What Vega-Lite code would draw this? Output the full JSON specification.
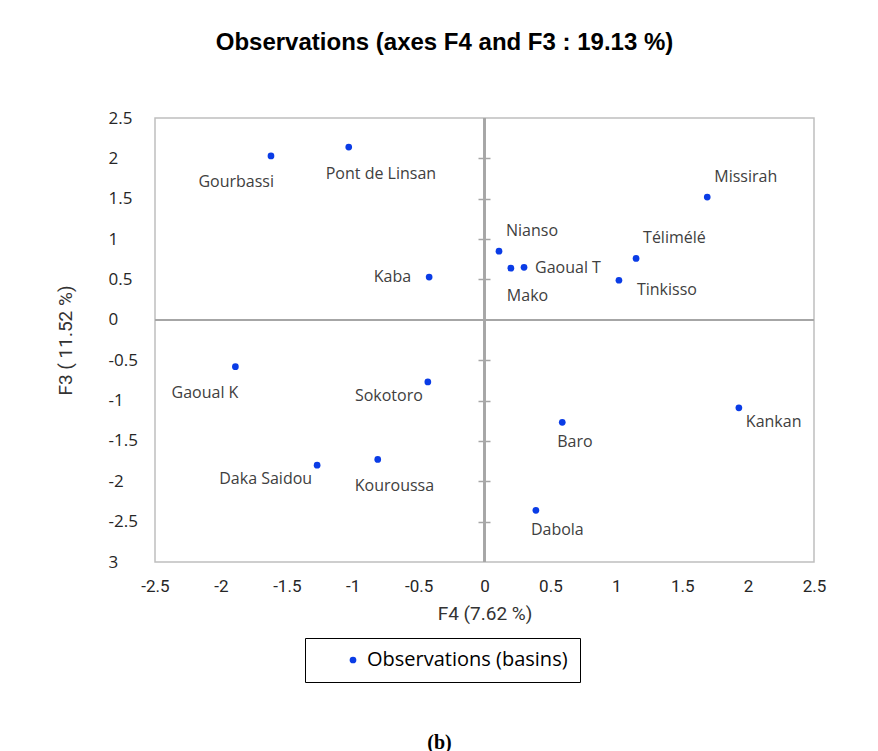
{
  "$schema": "https://vega.github.io/schema/vega-lite/v6.json",
  "width": 659,
  "height": 444,
  "autosize": {"type": "none"},
  "padding": {"left": 155, "top": 118, "right": 64, "bottom": 189},
  "background": "white",
  "title": {
    "text": "Observations (axes F4 and F3 : 19.13 %)",
    "font": "Liberation Sans",
    "fontSize": 24,
    "fontWeight": "bold",
    "color": "#000000",
    "anchor": "middle",
    "dx": -40,
    "offset": 54
  },
  "data": {
    "values": [
      {"basin": "Gourbassi", "F4": -1.62, "F3": 2.03},
      {"basin": "Pont de Linsan", "F4": -1.03, "F3": 2.14},
      {"basin": "Kaba", "F4": -0.42, "F3": 0.53},
      {"basin": "Nianso", "F4": 0.11, "F3": 0.85},
      {"basin": "Mako", "F4": 0.2, "F3": 0.64},
      {"basin": "Gaoual T", "F4": 0.3, "F3": 0.65},
      {"basin": "Tinkisso", "F4": 1.02, "F3": 0.49},
      {"basin": "Télimélé", "F4": 1.15, "F3": 0.76},
      {"basin": "Missirah", "F4": 1.69, "F3": 1.52},
      {"basin": "Gaoual K", "F4": -1.89, "F3": -0.58},
      {"basin": "Sokotoro", "F4": -0.43, "F3": -0.77},
      {"basin": "Daka Saidou", "F4": -1.27, "F3": -1.8},
      {"basin": "Kouroussa", "F4": -0.81, "F3": -1.73},
      {"basin": "Baro", "F4": 0.59, "F3": -1.27},
      {"basin": "Kankan", "F4": 1.93, "F3": -1.09},
      {"basin": "Dabola", "F4": 0.39, "F3": -2.36}
    ]
  },
  "resolve": {"axis": {"x": "independent", "y": "independent"}},
  "layer": [
    {
      "layer": [
        {
          "mark": {"type": "rule", "color": "#a6a6a6", "strokeWidth": 1.5},
          "encoding": {"y": {"datum": 0, "type": "quantitative"}}
        },
        {
          "mark": {"type": "rule", "color": "#a6a6a6", "strokeWidth": 1.5},
          "encoding": {"x": {"datum": 0, "type": "quantitative"}}
        },
        {
          "mark": {"type": "circle", "size": 45, "opacity": 1},
          "encoding": {
            "x": {
              "field": "F4",
              "type": "quantitative",
              "scale": {"domain": [-2.5, 2.5], "nice": false, "zero": false},
              "axis": {
                "title": "F4 (7.62 %)",
                "values": [-2.5, -2, -1.5, -1, -0.5, 0, 0.5, 1, 1.5, 2, 2.5],
                "labelExpr": "toString(datum.value)",
                "grid": false,
                "domain": false,
                "ticks": false,
                "labelPadding": 16,
                "labelFont": "Roboto",
                "labelFontSize": 17,
                "labelColor": "#262626",
                "labelFlush": false,
                "titleFont": "Roboto",
                "titleFontSize": 19,
                "titleFontWeight": "normal",
                "titleColor": "#333333",
                "titlePadding": 10
              }
            },
            "y": {
              "field": "F3",
              "type": "quantitative",
              "scale": {"domain": [-3, 2.5], "nice": false, "zero": false},
              "axis": {
                "title": "F3 ( 11.52 %)",
                "values": [-3, -2.5, -2, -1.5, -1, -0.5, 0, 0.5, 1, 1.5, 2, 2.5],
                "labelExpr": "datum.value == -3 ? '3' : toString(datum.value)",
                "grid": false,
                "domain": false,
                "ticks": false,
                "labelAlign": "left",
                "labelBaseline": "middle",
                "labelPadding": 47,
                "labelFont": "Open Sans",
                "labelFontSize": 17,
                "labelColor": "#262626",
                "labelFlush": false,
                "titleFont": "Roboto",
                "titleFontSize": 19,
                "titleFontWeight": "normal",
                "titleColor": "#333333",
                "titleAngle": -90,
                "titleBaseline": "middle",
                "titleAlign": "center",
                "titleX": -90,
                "titleY": 222
              }
            },
            "color": {
              "datum": "Observations (basins)",
              "type": "nominal",
              "scale": {"range": ["#0a3ce6"]},
              "legend": {
                "title": null,
                "orient": "none",
                "legendX": 150,
                "legendY": 520,
                "strokeColor": "#000000",
                "fillColor": "#ffffff",
                "padding": 12,
                "symbolType": "circle",
                "symbolSize": 45,
                "symbolOffset": 26,
                "labelOffset": 4,
                "labelFont": "Open Sans",
                "labelFontSize": 20,
                "labelColor": "#000000",
                "labelLimit": 400
              }
            }
          }
        },
        {
          "transform": [{"filter": {"field": "basin", "oneOf": ["Nianso", "Télimélé", "Missirah"]}}],
          "mark": {"type": "text", "align": "left", "baseline": "middle", "dx": 7, "dy": -20},
          "encoding": {"x": {"field": "F4", "type": "quantitative"}, "y": {"field": "F3", "type": "quantitative"}, "text": {"field": "basin"}}
        },
        {
          "transform": [{"filter": {"field": "basin", "oneOf": ["Tinkisso"]}}],
          "mark": {"type": "text", "align": "left", "baseline": "middle", "dx": 18, "dy": 10},
          "encoding": {"x": {"field": "F4", "type": "quantitative"}, "y": {"field": "F3", "type": "quantitative"}, "text": {"field": "basin"}}
        },
        {
          "transform": [{"filter": {"field": "basin", "oneOf": ["Kankan"]}}],
          "mark": {"type": "text", "align": "left", "baseline": "middle", "dx": 7, "dy": 14},
          "encoding": {"x": {"field": "F4", "type": "quantitative"}, "y": {"field": "F3", "type": "quantitative"}, "text": {"field": "basin"}}
        },
        {
          "transform": [{"filter": {"field": "basin", "oneOf": ["Gaoual T"]}}],
          "mark": {"type": "text", "align": "left", "baseline": "middle", "dx": 11, "dy": 1},
          "encoding": {"x": {"field": "F4", "type": "quantitative"}, "y": {"field": "F3", "type": "quantitative"}, "text": {"field": "basin"}}
        },
        {
          "transform": [{"filter": {"field": "basin", "oneOf": ["Sokotoro", "Daka Saidou"]}}],
          "mark": {"type": "text", "align": "right", "baseline": "middle", "dx": -5, "dy": 14},
          "encoding": {"x": {"field": "F4", "type": "quantitative"}, "y": {"field": "F3", "type": "quantitative"}, "text": {"field": "basin"}}
        },
        {
          "transform": [{"filter": {"field": "basin", "oneOf": ["Kaba"]}}],
          "mark": {"type": "text", "align": "right", "baseline": "middle", "dx": -18, "dy": 0},
          "encoding": {"x": {"field": "F4", "type": "quantitative"}, "y": {"field": "F3", "type": "quantitative"}, "text": {"field": "basin"}}
        },
        {
          "transform": [{"filter": {"field": "basin", "oneOf": ["Gourbassi", "Gaoual K"]}}],
          "mark": {"type": "text", "align": "right", "baseline": "middle", "dx": 3, "dy": 26},
          "encoding": {"x": {"field": "F4", "type": "quantitative"}, "y": {"field": "F3", "type": "quantitative"}, "text": {"field": "basin"}}
        },
        {
          "transform": [{"filter": {"field": "basin", "oneOf": ["Pont de Linsan", "Kouroussa"]}}],
          "mark": {"type": "text", "align": "left", "baseline": "middle", "dx": -23, "dy": 27},
          "encoding": {"x": {"field": "F4", "type": "quantitative"}, "y": {"field": "F3", "type": "quantitative"}, "text": {"field": "basin"}}
        },
        {
          "transform": [{"filter": {"field": "basin", "oneOf": ["Mako"]}}],
          "mark": {"type": "text", "align": "left", "baseline": "middle", "dx": -4, "dy": 28},
          "encoding": {"x": {"field": "F4", "type": "quantitative"}, "y": {"field": "F3", "type": "quantitative"}, "text": {"field": "basin"}}
        },
        {
          "transform": [{"filter": {"field": "basin", "oneOf": ["Baro", "Dabola"]}}],
          "mark": {"type": "text", "align": "left", "baseline": "middle", "dx": -5, "dy": 20},
          "encoding": {"x": {"field": "F4", "type": "quantitative"}, "y": {"field": "F3", "type": "quantitative"}, "text": {"field": "basin"}}
        }
      ]
    },
    {
      "mark": {"type": "point", "opacity": 0},
      "encoding": {
        "x": {
          "field": "F4",
          "type": "quantitative",
          "scale": {"domain": [-2.5, 2.5], "nice": false, "zero": false},
          "axis": {
            "orient": "bottom",
            "title": "(b)",
            "labels": false,
            "ticks": false,
            "domain": false,
            "grid": false,
            "titleFont": "Liberation Serif",
            "titleFontSize": 20,
            "titleFontWeight": "bold",
            "titleColor": "#000000",
            "titleAnchor": "start",
            "titleAlign": "center",
            "titleBaseline": "middle",
            "titleX": 284,
            "titleY": 180
          }
        },
        "y": {
          "field": "F3",
          "type": "quantitative",
          "scale": {"domain": [-3, 2.5], "nice": false, "zero": false},
          "axis": {
            "orient": "left",
            "offset": -335,
            "title": null,
            "labels": false,
            "domain": false,
            "grid": false,
            "ticks": true,
            "tickSize": 12,
            "tickColor": "#a6a6a6",
            "tickWidth": 1.5,
            "values": [-2.5, -2, -1.5, -1, -0.5, 0.5, 1, 1.5, 2]
          }
        }
      }
    }
  ],
  "config": {
    "view": {"stroke": "#bfbfbf", "strokeWidth": 1.5},
    "text": {"font": "Open Sans", "fontSize": 16, "color": "#404040"}
  }
}
